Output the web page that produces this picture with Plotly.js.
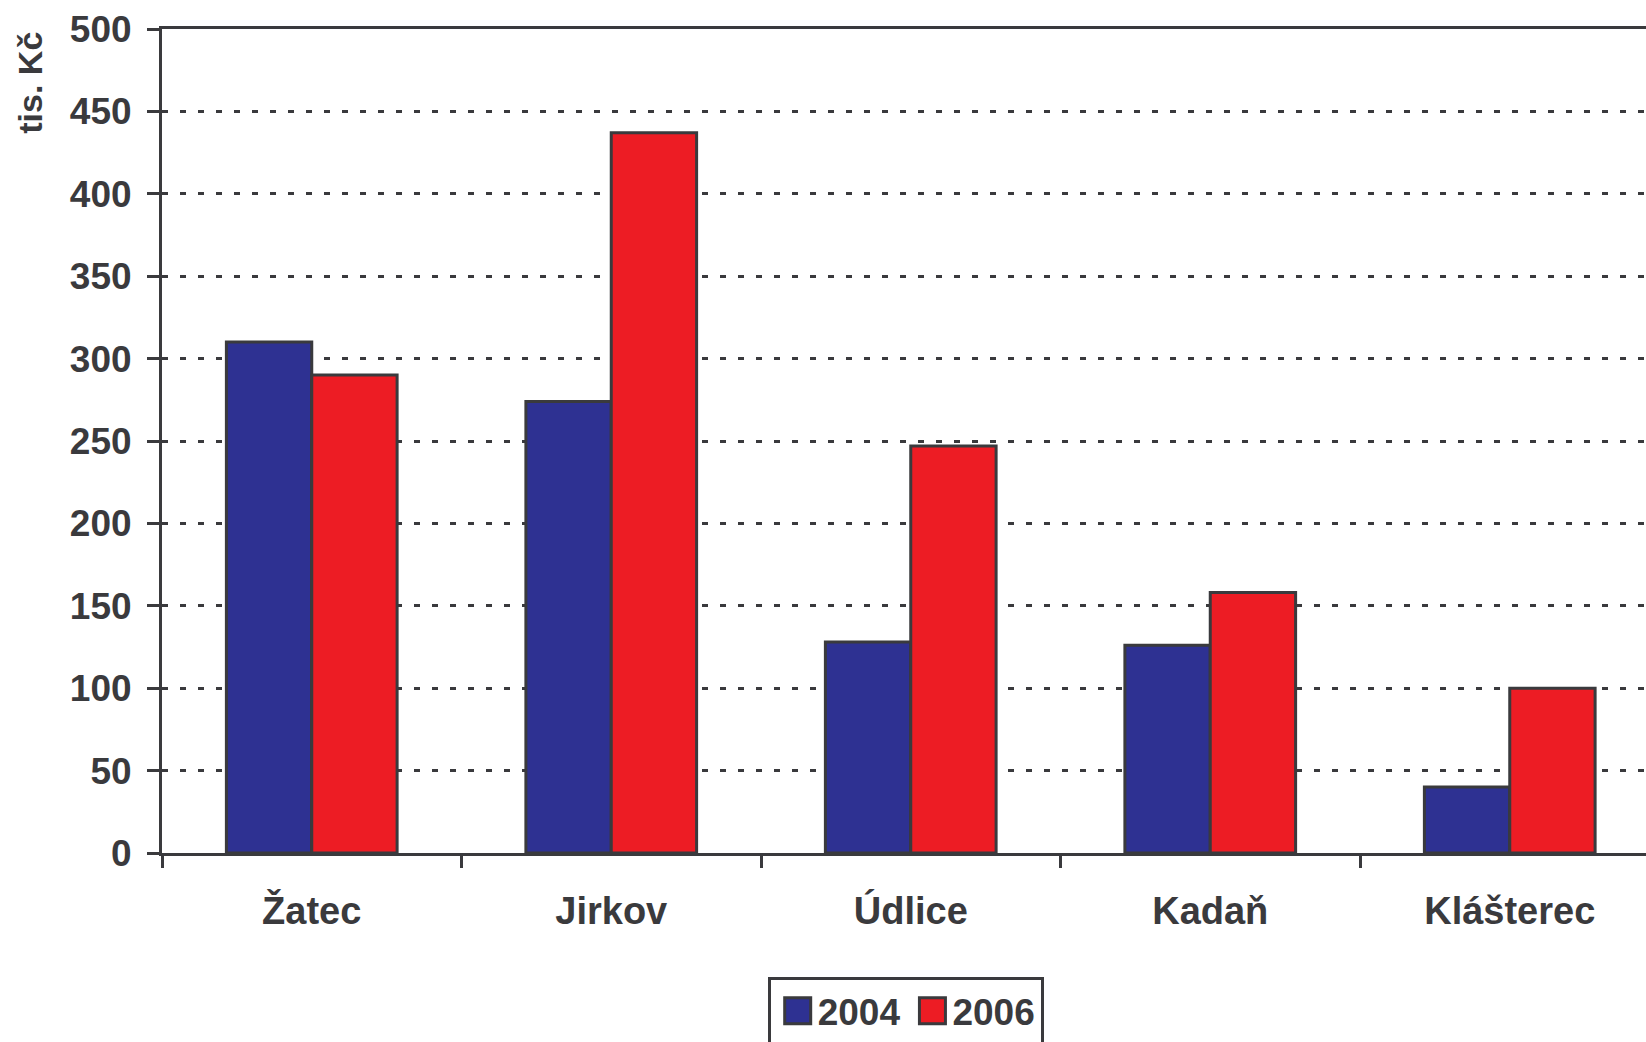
<!DOCTYPE html>
<html>
<head>
<meta charset="utf-8">
<script src="https://cdn.plot.ly/plotly-3.0.1.min.js"></script>
<style>
  html, body { margin: 0; padding: 0; background: #ffffff; }
  #chart { width: 1646px; height: 1042px; }
</style>
</head>
<body>
<div id="chart"></div>
<script>
// ---- data ----
const categories = ['Žatec', 'Jirkov', 'Údlice', 'Kadaň', 'Klášterec'];
const seriesNames = ['2004', '2006'];
const values2004 = [310, 274, 128, 126, 40];
const values2006 = [290, 437, 247, 158, 100];
const yTickValues = [0, 50, 100, 150, 200, 250, 300, 350, 400, 450, 500];
const yAxisTitle = 'tis. Kč';

// ---- style ----
const ink = '#3a3a3d';
const fontFamily = '"Liberation Sans", Arial, Helvetica, sans-serif';
const W = 1646, H = 1042;
const mL = 162, mT = 29.3, mB = H - 852.7, mR = 0;
const plotW = W - mL - mR;
const catW = 299.5;

const traces = [
  {
    type: 'bar', name: seriesNames[0], x: categories, y: values2004,
    marker: { color: '#2E3192', line: { color: ink, width: 3 } }
  },
  {
    type: 'bar', name: seriesNames[1], x: categories, y: values2006,
    marker: { color: '#ED1C24', line: { color: ink, width: 3 } }
  }
];

const layout = {
  width: W, height: H,
  margin: { l: mL, r: mR, t: mT, b: mB, pad: 0 },
  paper_bgcolor: '#ffffff',
  plot_bgcolor: '#ffffff',
  barmode: 'group',
  bargap: 0.43,
  bargroupgap: 0,
  font: { family: fontFamily, size: 37, color: ink, weight: 700 },
  showlegend: true,
  legend: {
    orientation: 'h',
    xref: 'container', yref: 'container',
    x: 767.7 / W, xanchor: 'left',
    y: (H - 977.3) / H, yanchor: 'top',
    bordercolor: ink, borderwidth: 3,
    bgcolor: '#ffffff',
    itemwidth: 37,
    font: { family: fontFamily, size: 37, color: ink, weight: 700 },
    itemclick: false, itemdoubleclick: false
  },
  xaxis: {
    type: 'category',
    range: [-0.5, -0.5 + plotW / catW],
    tickson: 'boundaries',
    ticks: 'outside', ticklen: 12, tickwidth: 3, tickcolor: ink,
    showline: true, linecolor: ink, linewidth: 3, mirror: true,
    showgrid: false, zeroline: false,
    tickfont: { family: fontFamily, size: 38, color: ink, weight: 700 },
    ticklabelstandoff: 22,
    fixedrange: true
  },
  yaxis: {
    range: [0, 500],
    tickvals: yTickValues,
    ticktext: yTickValues.map(String),
    ticks: 'outside', ticklen: 12, tickwidth: 3, tickcolor: ink,
    showline: true, linecolor: ink, linewidth: 3,
    showgrid: true, gridcolor: ink, gridwidth: 3, griddash: '6px,12px',
    zeroline: false,
    tickfont: { family: fontFamily, size: 37, color: ink, weight: 700 },
    ticklabelstandoff: 8,
    fixedrange: true
  },
  annotations: [
    {
      text: yAxisTitle,
      xref: 'paper', yref: 'paper',
      x: (30 - mL) / plotW, y: (852.7 - 83) / (852.7 - 29.3),
      xanchor: 'center', yanchor: 'middle',
      textangle: -90, showarrow: false,
      font: { family: fontFamily, size: 34, color: ink, weight: 700 }
    }
  ]
};

Plotly.newPlot('chart', traces, layout, { displayModeBar: false, staticPlot: true }).then(function (gd) {
  // enlarge legend swatches to match the reference
  gd.querySelectorAll('.legend .legendpoints path').forEach(function (p) {
    p.setAttribute('d', 'M16.5,13H-9.5V-13H16.5Z');
    p.style.strokeWidth = '3px';
  });
});
</script>
</body>
</html>
